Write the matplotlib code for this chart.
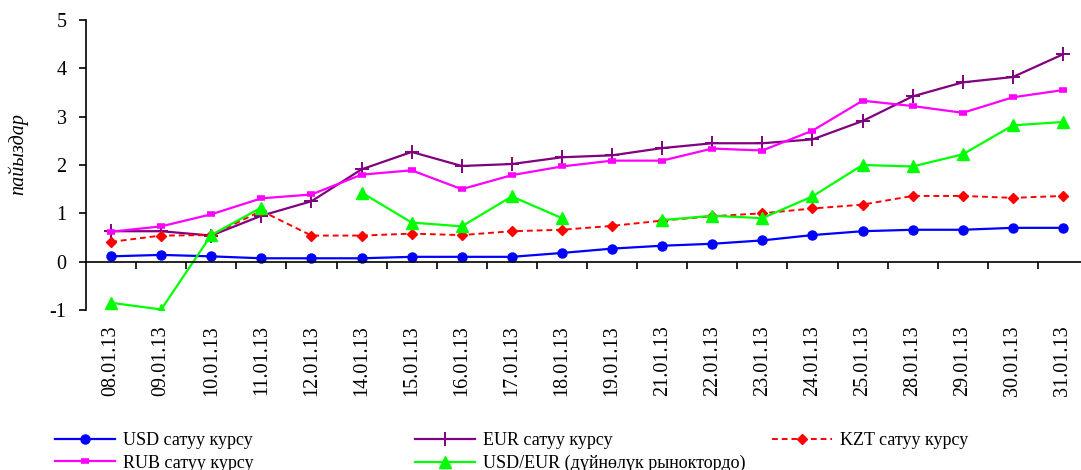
import matplotlib
matplotlib.use('Agg')

import numpy as np
import matplotlib.pyplot as plt

plt.rcParams['font.family'] = ['Liberation Serif', 'DejaVu Serif']
plt.rcParams['axes.unicode_minus'] = False

# даталар
dates = ['08.01.13', '09.01.13', '10.01.13', '11.01.13', '12.01.13', '14.01.13',
         '15.01.13', '16.01.13', '17.01.13', '18.01.13', '19.01.13', '21.01.13',
         '22.01.13', '23.01.13', '24.01.13', '25.01.13', '28.01.13', '29.01.13',
         '30.01.13', '31.01.13']

usd = [0.11, 0.14, 0.11, 0.07, 0.07, 0.07, 0.10, 0.10, 0.10, 0.18,
       0.27, 0.33, 0.37, 0.44, 0.55, 0.63, 0.66, 0.66, 0.70, 0.70]
eur = [0.63, 0.63, 0.54, 0.95, 1.25, 1.91, 2.27, 1.98, 2.02, 2.16,
       2.20, 2.35, 2.45, 2.45, 2.53, 2.91, 3.42, 3.71, 3.82, 4.29]
kzt = [0.41, 0.54, 0.55, 1.05, 0.54, 0.54, 0.58, 0.55, 0.63, 0.66,
       0.74, 0.85, 0.94, 1.00, 1.10, 1.18, 1.36, 1.36, 1.32, 1.36]
rub = [0.62, 0.73, 0.98, 1.31, 1.39, 1.80, 1.89, 1.50, 1.79, 1.97,
       2.09, 2.09, 2.34, 2.30, 2.71, 3.33, 3.22, 3.08, 3.40, 3.55]
usd_eur = [-0.85, -0.99, 0.55, 1.12, np.nan, 1.43, 0.81, 0.73, 1.35, 0.90,
           np.nan, 0.86, 0.95, 0.90, 1.35, 2.00, 1.97, 2.22, 2.82, 2.89]

x = np.arange(len(dates))

fig = plt.figure(figsize=(10.81, 4.70), dpi=100)
ax = fig.add_axes([86 / 1081, 1 - 310 / 470, 1002 / 1081, 290 / 470])

l_usd, = ax.plot(x, usd, color='#0000FF', lw=1.6, marker='o', ms=6.5,
                 label='USD сатуу курсу')
l_eur, = ax.plot(x, eur, color='#800080', lw=1.6, marker='+', ms=10, mew=1.4,
                 label='EUR сатуу курсу')
l_kzt, = ax.plot(x, kzt, color='#FF0000', lw=1.4, ls=(0, (3, 2)), marker='D', ms=5,
                 label='KZT сатуу курсу')
l_rub, = ax.plot(x, rub, color='#FF00FF', lw=1.6, marker='_', ms=6, mew=4,
                 label='RUB сатуу курсу')
l_ue, = ax.plot(x, usd_eur, color='#00FF00', lw=1.6, marker='^', ms=9,
                label='USD/EUR (дүйнөлүк рыноктордо)')

ax.set_xlim(-0.5, len(dates) - 0.5)
ax.set_ylim(-1, 5)
ax.set_yticks(range(-1, 6))
ax.tick_params(axis='y', labelsize=14.5, direction='out', length=5, width=1.2, pad=9)

# x огу нөлдө
for s in ['top', 'right']:
    ax.spines[s].set_visible(False)
ax.spines['bottom'].set_position(('data', 0))
ax.spines['bottom'].set_linewidth(1.2)
ax.spines['left'].set_linewidth(1.2)
ax.set_xticks(x[:-1] + 0.5)
ax.set_xticklabels([])
ax.tick_params(axis='x', direction='out', length=5, width=1.2)

sec = ax.secondary_xaxis(0)
sec.set_xticks(x)
sec.set_xticklabels(dates, rotation=90, fontsize=14.5)
sec.tick_params(axis='x', length=0, pad=11)
sec.spines['bottom'].set_visible(False)

fig.text(18 / 1081, 1 - 154 / 470, 'пайыздар', fontsize=14.5, style='italic',
         rotation=90, ha='center', va='center')

cols = [([l_usd, l_rub], 55), ([l_eur, l_ue], 415), ([l_kzt], 772)]
for handles, px in cols:
    fig.legend(handles=handles, loc='upper left', bbox_to_anchor=(px / 1081, 1 - 432 / 470),
               frameon=False, fontsize=13, handlelength=3.3, handletextpad=0.45,
               labelspacing=0.32, borderpad=0, borderaxespad=0)

fig.savefig('out.png', dpi=100)
